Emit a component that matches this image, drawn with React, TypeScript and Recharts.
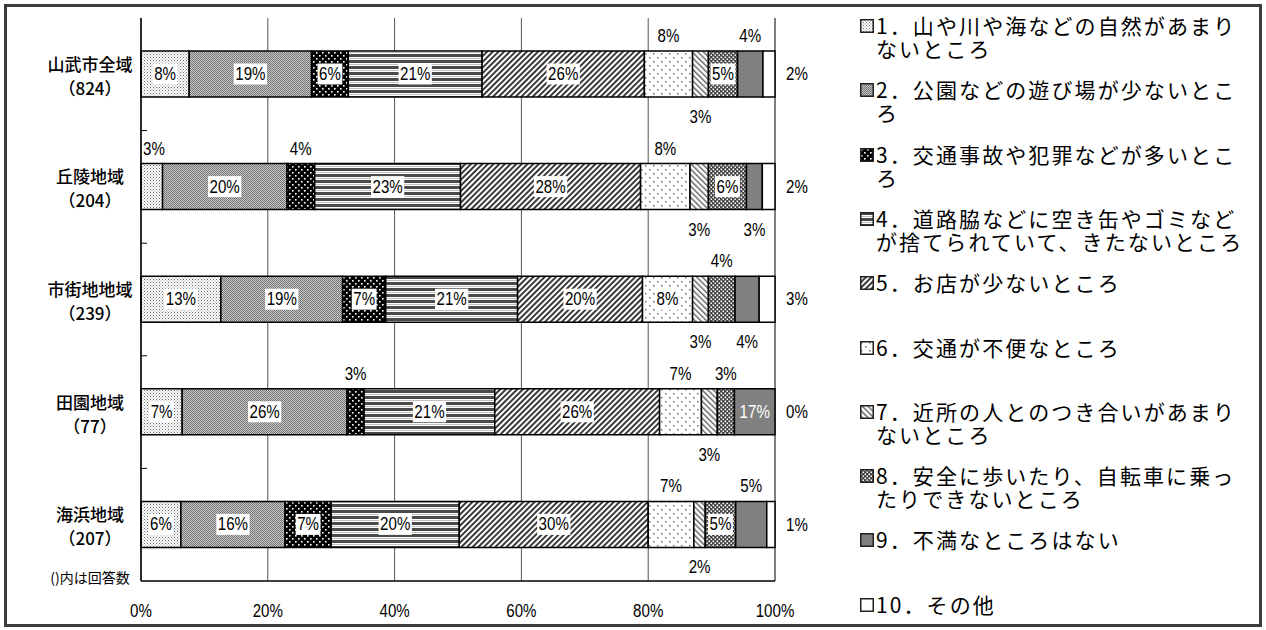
import React from "react";
import { BarChart, Bar, XAxis, YAxis, CartesianGrid, LabelList } from "recharts";

const categories = ["山武市全域", "丘陵地域", "市街地地域", "田園地域", "海浜地域"];
const counts = ["（824）", "（204）", "（239）", "（77）", "（207）"];

const s1 = [7.6, 3.4, 12.6, 6.5, 6.3];
const s2 = [19.3, 19.6, 19.2, 26.0, 16.4];
const s3 = [5.8, 4.4, 6.8, 2.7, 7.3];
const s4 = [21.1, 23.0, 20.8, 20.6, 20.2];
const s5 = [25.6, 28.4, 19.7, 26.0, 29.8];
const s6 = [7.6, 7.8, 7.9, 6.6, 7.2];
const s7 = [2.5, 2.9, 2.5, 2.5, 1.8];
const s8 = [4.6, 6.0, 4.2, 2.7, 4.8];
const s9 = [4.0, 2.5, 3.8, 6.4, 4.9];
const s10 = [1.9, 2.0, 2.5, 0.0, 1.3];

const seriesValues = [s1, s2, s3, s4, s5, s6, s7, s8, s9, s10];

const seriesNames = [
  ["1．山や川や海などの自然があまり", "ないところ"],
  ["2．公園などの遊び場が少ないとこ", "ろ"],
  ["3．交通事故や犯罪などが多いとこ", "ろ"],
  ["4．道路脇などに空き缶やゴミなど", "が捨てられていて、きたないところ"],
  ["5．お店が少ないところ"],
  ["6．交通が不便なところ"],
  ["7．近所の人とのつき合いがあまり", "ないところ"],
  ["8．安全に歩いたり、自転車に乗っ", "たりできないところ"],
  ["9．不満なところはない"],
  ["10．その他"],
];

// label text shown in the source where it differs from the rounded value (series 9, 田園地域)
const labelOverrides: Record<string, string> = { "8-3": "17%" };

const xTicks = [0, 20, 40, 60, 80, 100];

// label placement per series per row (style)
const placements = [
  ["in", "above", "in", "in", "in"],
  ["in", "in", "in", "in", "in"],
  ["in", "above", "in", "above", "in"],
  ["in", "in", "in", "in", "in"],
  ["in", "in", "in", "in", "in"],
  ["above", "above", "in", "above", "above"],
  ["below", "below", "below", "below", "below"],
  ["in", "in", "above", "above", "in"],
  ["above", "below", "below", "inWhite", "above"],
  ["none", "none", "none", "none", "none"],
];

const fills = ["url(#p1)", "url(#p2)", "url(#p3)", "url(#p4)", "url(#p5)", "url(#p6)", "url(#p7)", "url(#p8)", "#808080", "#ffffff"];

const data = categories.map((name, i) => {
  const row: any = { name, count: counts[i] };
  seriesValues.forEach((s, k) => (row["s" + (k + 1)] = s[i]));
  return row;
});

const NUM_FONT = "'Liberation Sans',Arial,sans-serif";
const JP_FONT = "'Noto Sans CJK JP','Noto Sans',sans-serif";
const NUM_SIZE = 18;
const SX = 0.84;

function textWidth(t: string) {
  let w = 0;
  for (const c of t) w += c === "%" ? 0.889 * NUM_SIZE : 0.556 * NUM_SIZE;
  return w * SX;
}

const NumText = ({ x, y, anchor = "middle", fill = "#000", children }: any) => (
  <text
    transform={`translate(${x},${y}) scale(${SX},1)`}
    x={0}
    y={0}
    textAnchor={anchor}
    dominantBaseline="central"
    fontFamily={NUM_FONT}
    fontSize={NUM_SIZE}
    fill={fill}
  >
    {children}
  </text>
);

function makeLabel(si: number) {
  return (props: any) => {
    const vb = props.viewBox || {};
    const x = props.x ?? vb.x;
    const y = props.y ?? vb.y;
    const width = props.width ?? vb.width ?? 0;
    const height = props.height ?? vb.height ?? 0;
    const row = categories.indexOf(props.value);
    if (row < 0) return null;
    const v = seriesValues[si][row];
    const txt = labelOverrides[si + "-" + row] ?? Math.round(v) + "%";
    const p = placements[si][row];
    const cx = x + width / 2;
    const cy = y + height / 2;
    const w = textWidth(txt);
    if (p === "in") {
      return (
        <g>
          <rect x={cx - w / 2 - 1.5} y={cy - 10.5} width={w + 3} height={21} fill="#fff" />
          <NumText x={cx} y={cy}>{txt}</NumText>
        </g>
      );
    }
    if (p === "inWhite") return <NumText x={cx} y={cy} fill="#fff">{txt}</NumText>;
    const ax = si === 0 ? Math.max(cx, x + w / 2 + 2) : cx;
    if (p === "above") return <NumText x={ax} y={y - 15}>{txt}</NumText>;
    if (p === "below") return <NumText x={ax} y={y + height + 20}>{txt}</NumText>;
    return null;
  };
}

const XTick = (props: any) => {
  const { x, y, payload } = props;
  return <NumText x={x} y={y + 22}>{payload.value + "%"}</NumText>;
};

const YTick = (props: any) => {
  const { x, y, payload, index, height, visibleTicksCount } = props;
  const i = categories.indexOf(payload.value);
  const n = visibleTicksCount || categories.length;
  const band = height ? height / n : 0;
  return (
    <g>
      <text x={x - 51} y={y - 11} textAnchor="middle" dominantBaseline="central" fontFamily={JP_FONT} fontSize={17} fontWeight={500} fill="#000">
        {payload.value}
      </text>
      <text x={x - 51} y={y + 13} textAnchor="middle" dominantBaseline="central" fontFamily={JP_FONT} fontSize={17} fontWeight={500} fill="#000">
        {counts[i >= 0 ? i : index]}
      </text>
      {band > 0 && index < n - 1 ? <line x1={x} x2={x + 6} y1={y + band / 2} y2={y + band / 2} stroke="#000" strokeWidth={1} /> : null}
    </g>
  );
};

const RightTick = (props: any) => {
  const { x, y, payload } = props;
  const i = categories.indexOf(payload.value);
  return <NumText x={x + 11} y={y} anchor="start">{Math.round(s10[i]) + "%"}</NumText>;
};

const Patterns = () => (
  <svg width={0} height={0} style={{ position: "absolute" }}>
    <defs>
      <pattern id="p1" width={3} height={3} patternUnits="userSpaceOnUse">
        <rect width={3} height={3} fill="#fff" />
        <rect x={0} y={0} width={1} height={1} fill="#6a6a6a" />
        <rect x={1.5} y={1.5} width={1} height={1} fill="#8a8a8a" />
      </pattern>
      <pattern id="p2" width={2} height={2} patternUnits="userSpaceOnUse">
        <rect width={2} height={2} fill="#c4c4c4" />
        <rect x={0} y={0} width={1} height={1} fill="#707070" />
        <rect x={1} y={1} width={1} height={1} fill="#808080" />
      </pattern>
      <pattern id="p3" width={6} height={6} patternUnits="userSpaceOnUse">
        <rect width={6} height={6} fill="#000" />
        <rect x={1} y={1} width={1.6} height={1.6} fill="#fff" />
        <rect x={4} y={4} width={1.6} height={1.6} fill="#fff" />
      </pattern>
      <pattern id="p4" width={6} height={6} patternUnits="userSpaceOnUse">
        <rect width={6} height={6} fill="#fff" />
        <rect x={0} y={0} width={6} height={3} fill="#4a4a4a" />
        <rect x={0} y={4} width={6} height={1} fill="#c0c0c0" />
      </pattern>
      <pattern id="p5" width={4} height={4} patternUnits="userSpaceOnUse" patternTransform="rotate(45)">
        <rect width={4} height={4} fill="#fff" />
        <rect x={0} y={0} width={2} height={4} fill="#3a3a3a" />
      </pattern>
      <pattern id="p6" width={8} height={8} patternUnits="userSpaceOnUse">
        <rect width={8} height={8} fill="#fff" />
        <rect x={1} y={1} width={1.5} height={1.5} fill="#707070" />
        <rect x={5} y={5} width={1.5} height={1.5} fill="#707070" />
      </pattern>
      <pattern id="p7" width={4} height={4} patternUnits="userSpaceOnUse" patternTransform="rotate(-45)">
        <rect width={4} height={4} fill="#fff" />
        <rect x={0} y={0} width={1.4} height={4} fill="#606060" />
      </pattern>
      <pattern id="p8" width={4} height={4} patternUnits="userSpaceOnUse">
        <rect width={4} height={4} fill="#454545" />
        <rect x={0.5} y={0.5} width={1.6} height={1.6} fill="#fff" />
        <rect x={2.5} y={2.5} width={1.6} height={1.6} fill="#fff" />
      </pattern>
    </defs>
  </svg>
);

const Legend = () => (
  <div style={{ position: "absolute", left: 858, top: 0 }}>
    {seriesNames.map((lines, i) => (
      <div key={i} style={{ position: "absolute", top: 14 + i * 64.3, left: 0, width: 400, fontFamily: JP_FONT, fontSize: 21, lineHeight: "23px", letterSpacing: "2.1px", color: "#000", whiteSpace: "nowrap" }}>
        <svg width={14} height={14} style={{ position: "absolute", left: 2, top: 5 }}>
          <rect x={0.75} y={0.75} width={12.5} height={12.5} fill={fills[i]} stroke="#222" strokeWidth={1.5} />
        </svg>
        <div style={{ position: "absolute", left: 18, top: 0 }}>
          {lines.map((l, k) => (
            <div key={k}>{l}</div>
          ))}
        </div>
      </div>
    ))}
  </div>
);

export default function App() {
  return (
    <div style={{ position: "absolute", left: 0, top: 0, width: 1266, height: 630, background: "#fff", overflow: "hidden" }}>
      <Patterns />
      <BarChart width={1266} height={630} data={data} layout="vertical" margin={{ top: 18, right: 451, bottom: 0, left: 0 }} barSize={46}>
        <CartesianGrid horizontal={false} vertical stroke="#555" />
        <XAxis type="number" domain={[0, 100]} ticks={xTicks} tick={<XTick />} tickLine={false} axisLine={{ stroke: "#000", strokeWidth: 1.5 }} height={49} interval={0} />
        <XAxis xAxisId="top" orientation="top" type="number" domain={[0, 100]} tick={false} tickLine={false} axisLine={{ stroke: "#000" }} height={0} />
        <YAxis type="category" dataKey="name" width={141} tickLine={false} tickSize={0} tickMargin={0} axisLine={{ stroke: "#000", strokeWidth: 1.5 }} tick={<YTick />} interval={0} />
        <YAxis yAxisId="r" orientation="right" type="category" dataKey="name" width={40} tickLine={false} tickSize={0} tickMargin={0} axisLine={false} tick={<RightTick />} interval={0} />
        {seriesValues.map((_, k) => (
          <Bar key={k} dataKey={"s" + (k + 1)} stackId="a" fill={fills[k]} stroke="#000" strokeWidth={1.5} isAnimationActive={false}>
            {k < 9 ? <LabelList dataKey="name" content={makeLabel(k)} /> : null}
          </Bar>
        ))}
      </BarChart>
      <Legend />
      <div style={{ position: "absolute", left: 38, top: 567, width: 104, textAlign: "center", fontFamily: JP_FONT, fontSize: 14, color: "#000" }}>()内は回答数</div>
      <div style={{ position: "absolute", left: 4, top: 4, width: 1258, height: 623, border: "3px solid #3c3c3c", boxSizing: "border-box", pointerEvents: "none" }} />
    </div>
  );
}
